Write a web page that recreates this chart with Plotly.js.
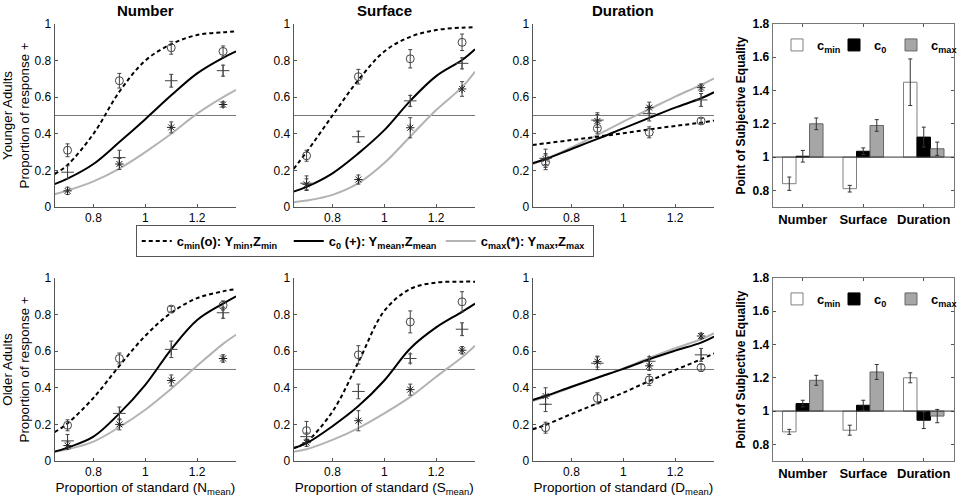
<!DOCTYPE html>
<html>
<head>
<meta charset="utf-8">
<script src="https://cdn.plot.ly/plotly-3.0.1.min.js"></script>
<style>
  html, body { margin: 0; padding: 0; background: #fff; }
  #chart { width: 964px; height: 499px; }
</style>
</head>
<body>
<div id="chart"></div>
<script>
/* -------------------- Data -------------------- */

// stimulus levels (proportion of standard) and where the fitted curves were read
const levels = [0.7, 0.9, 1.1, 1.3];
const fitX = [0.65, 0.7, 0.8, 0.9, 1.0, 1.1, 1.2, 1.3, 1.35];

// Younger adults - Number
const ynFitMin = [0.18, 0.23, 0.40, 0.63, 0.80, 0.89, 0.94, 0.955, 0.96];
const ynFit0   = [0.125, 0.155, 0.235, 0.355, 0.48, 0.61, 0.73, 0.815, 0.85];
const ynFitMax = [0.07, 0.09, 0.14, 0.21, 0.30, 0.40, 0.51, 0.60, 0.64];
const ynMin = [0.31, 0.69, 0.87, 0.85],  ynMinErr = [0.035, 0.04, 0.035, 0.03];
const yn0   = [0.19, 0.27, 0.69, 0.745], yn0Err   = [0.035, 0.04, 0.035, 0.03];
const ynMax = [0.088, 0.235, 0.435, 0.56], ynMaxErr = [0.02, 0.03, 0.03, 0.015];

// Younger adults - Surface
const ysFitMin = [0.208, 0.30, 0.50, 0.694, 0.85, 0.93, 0.967, 0.98, 0.982];
const ysFit0   = [0.084, 0.11, 0.184, 0.293, 0.42, 0.58, 0.715, 0.803, 0.862];
const ysFitMax = [0.026, 0.035, 0.066, 0.13, 0.24, 0.385, 0.53, 0.655, 0.74];
const ysMin = [0.28, 0.712, 0.81, 0.90],   ysMinErr = [0.03, 0.04, 0.05, 0.045];
const ys0   = [0.13, 0.384, 0.58, 0.785],  ys0Err   = [0.04, 0.03, 0.03, 0.03];
const ysMax = [0.124, 0.15, 0.433, 0.645], ysMaxErr = [0.03, 0.025, 0.055, 0.04];

// Younger adults - Duration
const ydFitMin = [0.339, 0.348, 0.366, 0.384, 0.403, 0.424, 0.443, 0.461, 0.472];
const ydFit0   = [0.239, 0.262, 0.317, 0.372, 0.43, 0.487, 0.543, 0.594, 0.627];
const ydFitMax = [0.235, 0.262, 0.326, 0.393, 0.466, 0.534, 0.603, 0.667, 0.703];
const ydMin = [0.244, 0.43, 0.408, 0.47],  ydMinErr = [0.04, 0.03, 0.03, 0.015];
const yd0   = [0.266, 0.475, 0.51, 0.585], yd0Err   = [0.05, 0.04, 0.04, 0.035];
const ydMax = [0.262, 0.47, 0.543, 0.652], ydMaxErr = [0.03, 0.035, 0.03, 0.02];

// Older adults - Number
const onFitMin = [0.157, 0.206, 0.345, 0.52, 0.684, 0.81, 0.89, 0.927, 0.94];
const onFit0   = [0.051, 0.073, 0.133, 0.26, 0.416, 0.61, 0.77, 0.86, 0.90];
const onFitMax = [0.051, 0.064, 0.106, 0.185, 0.28, 0.395, 0.52, 0.64, 0.69];
const onMin = [0.195, 0.56, 0.83, 0.85], onMinErr = [0.03, 0.03, 0.015, 0.025];
const on0   = [0.11, 0.26, 0.61, 0.81],  on0Err   = [0.035, 0.035, 0.045, 0.03];
const onMax = [0.084, 0.20, 0.44, 0.56], onMaxErr = [0.02, 0.03, 0.03, 0.02];

// Older adults - Surface
const osFitMin = [0.07, 0.105, 0.27, 0.54, 0.82, 0.94, 0.975, 0.98, 0.98];
const osFit0   = [0.07, 0.097, 0.19, 0.30, 0.44, 0.615, 0.73, 0.815, 0.86];
const osFitMax = [0.05, 0.064, 0.115, 0.18, 0.26, 0.35, 0.46, 0.567, 0.63];
const osMin = [0.166, 0.58, 0.76, 0.87], osMinErr = [0.05, 0.05, 0.06, 0.055];
const os0   = [0.133, 0.38, 0.56, 0.72], os0Err   = [0.02, 0.04, 0.025, 0.035];
const osMax = [0.10, 0.22, 0.39, 0.605], osMaxErr = [0.02, 0.055, 0.03, 0.02];

// Older adults - Duration
const odFitMin = [0.173, 0.197, 0.257, 0.315, 0.373, 0.437, 0.497, 0.556, 0.588];
const odFit0   = [0.333, 0.355, 0.406, 0.455, 0.503, 0.556, 0.603, 0.647, 0.68];
const odFitMax = [0.328, 0.35, 0.403, 0.455, 0.506, 0.563, 0.616, 0.665, 0.698];
const odMin = [0.182, 0.342, 0.443, 0.51], odMinErr = [0.03, 0.03, 0.03, 0.02];
const od0   = [0.31, 0.534, 0.545, 0.58],  od0Err   = [0.04, 0.035, 0.025, 0.035];
const odMax = [0.355, 0.543, 0.52, 0.683], odMaxErr = [0.045, 0.03, 0.025, 0.015];

// Point of subjective equality (bar charts)
const barCats = ["Number", "Surface", "Duration"];
const pseYoungMin = [0.84, 0.81, 1.45],   pseYoungMinErr = [0.04, 0.02, 0.14];
const pseYoung0   = [1.005, 1.035, 1.12], pseYoung0Err   = [0.035, 0.02, 0.06];
const pseYoungMax = [1.20, 1.19, 1.05],   pseYoungMaxErr = [0.035, 0.035, 0.04];
const pseOldMin = [0.875, 0.885, 1.20],   pseOldMinErr = [0.015, 0.03, 0.03];
const pseOld0   = [1.045, 1.035, 0.945],  pseOld0Err   = [0.02, 0.03, 0.05];
const pseOldMax = [1.185, 1.235, 0.97],   pseOldMaxErr = [0.03, 0.045, 0.04];

/* -------------------- Styles -------------------- */

const FONT = "Liberation Sans, Arial, Helvetica, sans-serif";
const AXIS_GREY = "#555";

const conds = [
  {
    name: "c<sub>min</sub>(o): Y<sub>min</sub>,Z<sub>min</sub>",
    barName: "c<sub>min</sub>", barLegendWidth: 12,
    line: { color: "#000", width: 2, dash: "4px,3px" },
    marker: { symbol: "circle-open", size: 8, color: "#444", line: { width: 1, color: "#444" } },
    bar: { color: "#fff", line: { color: "#808080", width: 1 } },
  },
  {
    name: "c<sub>0</sub> (+): Y<sub>mean</sub>,Z<sub>mean</sub>",
    barName: "c<sub>0</sub>", barLegendWidth: 12,
    line: { color: "#000", width: 2 },
    marker: { symbol: "cross-thin-open", size: 9, color: "#444", line: { width: 1, color: "#444" } },
    bar: { color: "#000", line: { color: "#000", width: 1 } },
  },
  {
    name: "c<sub>max</sub>(*): Y<sub>max</sub>,Z<sub>max</sub>",
    barName: "c<sub>max</sub>", barLegendWidth: 28,
    line: { color: "#b3b3b3", width: 2 },
    marker: { symbol: "asterisk-open", size: 7, color: "#222", line: { width: 1, color: "#222" } },
    bar: { color: "#a6a6a6", line: { color: "#666", width: 1 } },
  },
];

const panels = [
  { ax: 1, fits: [ynFitMin, ynFit0, ynFitMax], pts: [ynMin, yn0, ynMax], errs: [ynMinErr, yn0Err, ynMaxErr] },
  { ax: 2, fits: [ysFitMin, ysFit0, ysFitMax], pts: [ysMin, ys0, ysMax], errs: [ysMinErr, ys0Err, ysMaxErr] },
  { ax: 3, fits: [ydFitMin, ydFit0, ydFitMax], pts: [ydMin, yd0, ydMax], errs: [ydMinErr, yd0Err, ydMaxErr] },
  { ax: 5, fits: [onFitMin, onFit0, onFitMax], pts: [onMin, on0, onMax], errs: [onMinErr, on0Err, onMaxErr] },
  { ax: 6, fits: [osFitMin, osFit0, osFitMax], pts: [osMin, os0, osMax], errs: [osMinErr, os0Err, osMaxErr] },
  { ax: 7, fits: [odFitMin, odFit0, odFitMax], pts: [odMin, od0, odMax], errs: [odMinErr, od0Err, odMaxErr] },
];

const barPanels = [
  { ax: 4, legend: "legend2", vals: [pseYoungMin, pseYoung0, pseYoungMax], errs: [pseYoungMinErr, pseYoung0Err, pseYoungMaxErr] },
  { ax: 8, legend: "legend3", vals: [pseOldMin, pseOld0, pseOldMax], errs: [pseOldMinErr, pseOld0Err, pseOldMaxErr] },
];

/* -------------------- Traces -------------------- */

const axRef = (i) => ({ x: i === 1 ? "x" : "x" + i, y: i === 1 ? "y" : "y" + i });
const traces = [];

panels.forEach((p) => {
  const ref = axRef(p.ax);
  // grey first so the black curves sit on top
  [2, 1, 0].forEach((c) => {
    traces.push({
      x: fitX, y: p.fits[c], xaxis: ref.x, yaxis: ref.y,
      type: "scatter", mode: "lines",
      line: Object.assign({ shape: "spline" }, conds[c].line),
      name: conds[c].name, legend: "legend", legendrank: c + 1,
      showlegend: p.ax === 1, hoverinfo: "skip",
    });
  });
  [0, 1, 2].forEach((c) => {
    traces.push({
      x: levels, y: p.pts[c], xaxis: ref.x, yaxis: ref.y,
      type: "scatter", mode: "markers",
      marker: conds[c].marker,
      error_y: { type: "data", array: p.errs[c], color: "#444", thickness: 1, width: 2 },
      showlegend: false,
    });
  });
});

barPanels.forEach((b) => {
  const ref = axRef(b.ax);
  [0, 1, 2].forEach((c) => {
    traces.push({
      x: barCats, y: b.vals[c].map((v) => v - 1), base: 1,
      xaxis: ref.x, yaxis: ref.y, type: "bar",
      marker: conds[c].bar, name: conds[c].barName,
      legend: b.legend, legendwidth: conds[c].barLegendWidth,
      error_y: { type: "data", array: b.errs[c], color: "#333", thickness: 1, width: 2 },
      hoverinfo: "skip",
    });
  });
});

/* -------------------- Layout -------------------- */

const colDomains = [[0.0571, 0.2469], [0.3071, 0.4969], [0.5571, 0.7469], [0.8081, 0.9979]];
const rowDomains = [[0.5852, 0.9519], [0.0762, 0.4429]];
const xTitles = ["N", "S", "D"];

const layout = {
  width: 964, height: 499,
  margin: { l: 0, r: 0, t: 0, b: 0 },
  paper_bgcolor: "#fff", plot_bgcolor: "#fff",
  font: { family: FONT, size: 12, color: "#000" },
  barmode: "group", bargap: 0.33, bargroupgap: 0,
  shapes: [], annotations: [],
  legend: {
    orientation: "h", x: 0.142, xanchor: "left", y: 0.549, yanchor: "top",
    bgcolor: "#fff", bordercolor: AXIS_GREY, borderwidth: 1,
    entrywidth: 107, entrywidthmode: "pixels",
    font: { size: 13, weight: "bold" }, traceorder: "normal",
  },
};

["legend2", "legend3"].forEach((name, r) => {
  layout[name] = {
    orientation: "h", x: 0.813, xanchor: "left",
    y: rowDomains[r][1] - 0.012, yanchor: "top",
    bgcolor: "rgba(0,0,0,0)",
    font: { size: 13, weight: "bold" }, traceorder: "normal",
  };
});

for (let r = 0; r < 2; r++) {
  for (let c = 0; c < 4; c++) {
    const i = r * 4 + c + 1;
    const xKey = i === 1 ? "xaxis" : "xaxis" + i;
    const yKey = i === 1 ? "yaxis" : "yaxis" + i;
    const ref = axRef(i);
    const common = {
      showgrid: false, zeroline: false, showline: true,
      linecolor: AXIS_GREY, linewidth: 1,
      ticks: "inside", ticklen: 3, tickcolor: AXIS_GREY,
    };
    if (c < 3) {
      layout[xKey] = Object.assign({}, common, {
        domain: colDomains[c], anchor: ref.y,
        range: [0.65, 1.35], tickvals: [0.8, 1, 1.2],
        tickfont: { size: 12 },
      });
      if (r === 1) {
        layout[xKey].title = {
          text: `Proportion of standard (${xTitles[c]}<sub>mean</sub>)`,
          font: { size: 13.5 }, standoff: 4,
        };
      }
      layout[yKey] = Object.assign({}, common, {
        domain: rowDomains[r], anchor: ref.x,
        range: [0, 1], tickvals: [0, 0.2, 0.4, 0.6, 0.8, 1],
        tickfont: { size: 12 },
      });
      if (c === 0) {
        layout[yKey].title = {
          text: (r === 0 ? "Younger Adults" : "Older Adults") + "<br>Proportion of response +",
          font: { size: 13.3 }, standoff: 3,
        };
      }
      layout.shapes.push({
        type: "line", xref: ref.x + " domain", x0: 0, x1: 1,
        yref: ref.y, y0: 0.5, y1: 0.5,
        line: { color: "#777", width: 1 }, layer: "below",
      });
    } else {
      layout[xKey] = Object.assign({}, common, {
        domain: colDomains[c], anchor: ref.y, type: "category",
        mirror: "ticks", linecolor: "#777",
        tickfont: { size: 13, weight: "bold" },
      });
      layout[yKey] = Object.assign({}, common, {
        domain: rowDomains[r], anchor: ref.x,
        range: [0.7, 1.8], tickvals: [0.8, 1, 1.2, 1.4, 1.6, 1.8],
        mirror: "ticks", linecolor: "#777",
        tickfont: { size: 12, weight: "bold" },
        title: { text: "Point of Subjective Equality", font: { size: 12, weight: "bold" }, standoff: 4 },
      });
      layout.shapes.push({
        type: "line", xref: ref.x + " domain", x0: 0, x1: 1,
        yref: ref.y, y0: 1, y1: 1,
        line: { color: "#333", width: 1 }, layer: "above",
      });
    }
  }
}

barCats.forEach((name, c) => {
  layout.annotations.push({
    text: "<b>" + name + "</b>", showarrow: false,
    xref: (c === 0 ? "x" : "x" + (c + 1)) + " domain", x: 0.5, xanchor: "center",
    yref: "paper", y: 1 - 10.5 / 499, yanchor: "middle",
    font: { size: 15 },
  });
});

Plotly.newPlot("chart", traces, layout, { displayModeBar: false, staticPlot: true });
</script>
</body>
</html>
